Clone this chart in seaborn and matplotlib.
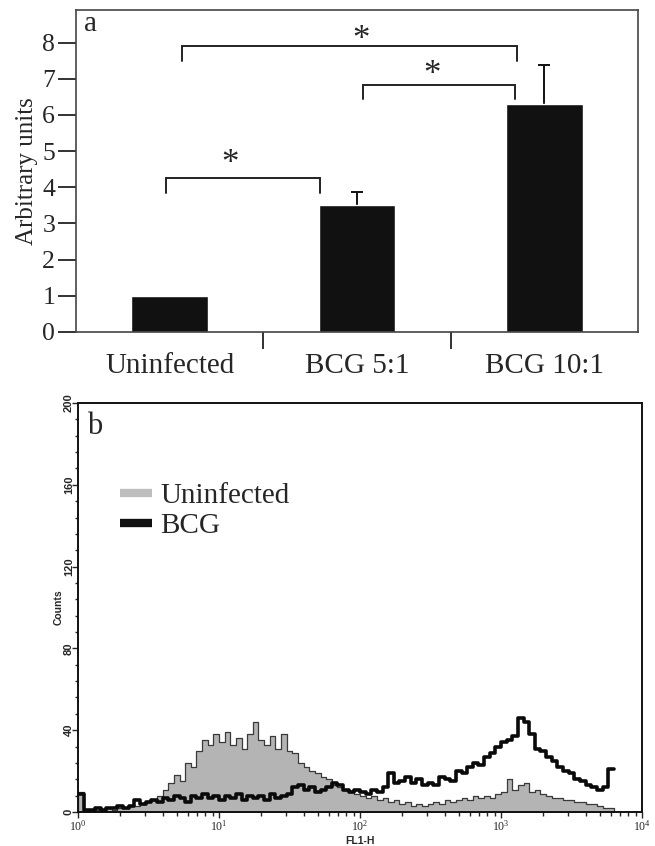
import numpy as np
import pandas as pd
import matplotlib
matplotlib.use("Agg")
import matplotlib.pyplot as plt
from matplotlib.lines import Line2D
from matplotlib.ticker import MultipleLocator, LogLocator, NullFormatter
import seaborn as sns

# ---------------- data ----------------
categories = ["Uninfected", "BCG 5:1", "BCG 10:1"]
bar_values = [1.0, 3.5, 6.3]
bar_errors = [0.0, 0.38, 1.08]

# significance brackets: (x_left, x_right, height, tick_bottom, star_x, star_y)
brackets = [
    (-0.02, 0.80, 4.27, 3.85, 0.32, 4.62),
    (0.065, 1.855, 7.90, 7.48, 1.02, 8.05),
    (1.03, 1.845, 6.84, 6.45, 1.40, 7.10),
]

# flow cytometry histogram: counts per channel (channel width 0.04 decade, from 10^0)
uninfected_counts = [
    10, 1, 1, 1, 1, 2, 1, 2, 2, 3,
    3, 4, 5, 6, 8, 11, 14, 18, 15, 24,
    22, 30, 35, 33, 38, 34, 39, 33, 36, 31,
    38, 44, 35, 33, 37, 31, 38, 30, 29, 24,
    22, 20, 19, 17, 16, 13, 12, 11, 10, 9,
    8, 7, 8, 6, 7, 5, 6, 4, 5, 3,
    4, 3, 4, 5, 4, 6, 5, 6, 7, 6,
    8, 7, 8, 7, 9, 10, 16, 11, 13, 14,
    10, 11, 9, 8, 7, 7, 6, 6, 5, 5,
    4, 4, 3, 2, 2,
]
bcg_counts = [
    9, 1, 1, 2, 1, 2, 2, 3, 2, 3,
    6, 4, 5, 6, 5, 7, 6, 8, 7, 5,
    8, 7, 9, 7, 8, 6, 8, 7, 9, 6,
    8, 7, 8, 6, 9, 7, 8, 9, 12, 13,
    11, 12, 10, 11, 12, 14, 13, 11, 10, 11,
    10, 9, 11, 10, 12, 19, 14, 15, 17, 14,
    16, 13, 14, 13, 17, 16, 15, 20, 19, 22,
    24, 23, 27, 29, 32, 34, 35, 37, 46, 44,
    38, 31, 30, 27, 25, 22, 20, 19, 16, 15,
    13, 12, 11, 12, 21,
]
channel_width_decades = 0.04
hist_yticks = [0, 40, 80, 120, 160, 200]

# ---------------- style ----------------
sns.set_style("white")
plt.rcParams["font.family"] = ["Liberation Serif", "DejaVu Serif"]
plt.rcParams["mathtext.fontset"] = "custom"
plt.rcParams["mathtext.rm"] = "Liberation Sans:bold"
plt.rcParams["mathtext.it"] = "Liberation Sans:bold"
plt.rcParams["mathtext.bf"] = "Liberation Sans:bold"

fig = plt.figure(figsize=(6.55, 8.46), dpi=100)
ax1 = fig.add_axes([76 / 655, 1 - 332 / 846, 562 / 655, 322 / 846])
ax2 = fig.add_axes([78 / 655, 1 - 812 / 846, 564 / 655, 409 / 846])

# ---------------- panel a ----------------
df_bar = pd.DataFrame({"group": categories, "value": bar_values})
sns.barplot(data=df_bar, x="group", y="value", color="#111111", width=0.41,
            saturation=1, errorbar=None, ax=ax1, zorder=2)
idx = [i for i, e in enumerate(bar_errors) if e > 0]
_, caps, _ = ax1.errorbar(idx, [bar_values[i] for i in idx],
                          yerr=[np.zeros(len(idx)), [bar_errors[i] for i in idx]],
                          fmt="none", ecolor="#111111", elinewidth=1.4,
                          capsize=4.5, capthick=1.4, zorder=1)
caps[0].set_visible(False)
ax1.set_xlim(-0.5, 2.5)
ax1.set_ylim(0, 8.9)
ax1.set_yticks(range(0, 9))
ax1.set_xticks([0.5, 1.5])
ax1.set_xticklabels([])
ax1.set_xticks([0, 1, 2], minor=True)
ax1.set_xticklabels(categories, minor=True, fontsize=21)
ax1.tick_params(axis="x", which="major", length=12, width=1.3, direction="out",
                color="#222222", bottom=True)
ax1.tick_params(axis="x", which="minor", length=0, pad=15, bottom=True)
ax1.tick_params(axis="y", which="major", length=13, width=1.3, direction="out",
                color="#222222", labelsize=18.5, pad=2, left=True)
ax1.set_xlabel("")
ax1.set_ylabel("Arbitrary units", fontsize=18, labelpad=3)
for s in ax1.spines.values():
    s.set_visible(True)
    s.set_color("#444444")
    s.set_linewidth(1.2)
ax1.text(0.014, 0.955, "a", transform=ax1.transAxes, fontsize=21,
         ha="left", va="center")
for xl, xr, h, tb, sx, sy in brackets:
    ax1.plot([xl, xl, xr, xr], [tb, h, h, tb], color="#222222", lw=1.4,
             solid_joinstyle="miter")
    ax1.text(sx, sy, "*", fontsize=25, ha="center", va="center")

# ---------------- panel b ----------------
n = len(uninfected_counts)
centers = 10 ** (channel_width_decades * (np.arange(n) + 0.5))
df_hist = pd.DataFrame({"fl1": centers, "uninf": uninfected_counts, "bcg": bcg_counts})
rng = (0, channel_width_decades * n)
sns.histplot(data=df_hist, x="fl1", weights="uninf", log_scale=True,
             binwidth=channel_width_decades, binrange=rng, element="step",
             fill=True, color="#b4b4b4", edgecolor="#3a3a3a", linewidth=0.9,
             alpha=1, ax=ax2, zorder=2)
sns.histplot(data=df_hist, x="fl1", weights="bcg", log_scale=True,
             binwidth=channel_width_decades, binrange=rng, element="step",
             fill=False, color="#0a0a0a", linewidth=2.6, ax=ax2, zorder=3)
ax2.set_xlim(1, 1e4)
ax2.set_ylim(0, 200)
ax2.set_yticks(hist_yticks)
ax2.yaxis.set_minor_locator(MultipleLocator(8))
ax2.xaxis.set_major_locator(LogLocator(base=10, numticks=10))
ax2.xaxis.set_minor_locator(LogLocator(base=10, subs=np.arange(2, 10), numticks=20))
ax2.xaxis.set_minor_formatter(NullFormatter())
ax2.tick_params(axis="y", which="major", length=4, width=1, direction="out",
                left=True, labelsize=8, pad=-1)
ax2.tick_params(axis="y", which="minor", length=2.5, width=1, direction="out", left=True)
ax2.tick_params(axis="x", which="major", length=4, width=1, direction="out",
                bottom=True, labelsize=8.5, pad=1)
ax2.tick_params(axis="x", which="minor", length=3, width=1, direction="out", bottom=True)
for lab in ax2.get_yticklabels():
    lab.set_rotation(90)
    lab.set_va("center")
    lab.set_family("Liberation Sans")
    lab.set_weight("bold")
ax2.set_ylabel("Counts", fontsize=7.5, family="Liberation Sans", weight="bold", labelpad=0)
ax2.set_xlabel("FL1-H", fontsize=7.5, family="Liberation Sans", weight="bold", labelpad=2)
for s in ax2.spines.values():
    s.set_visible(True)
    s.set_color("#111111")
    s.set_linewidth(1.4)
ax2.text(0.016, 0.942, "b", transform=ax2.transAxes, fontsize=22,
         ha="left", va="center")
handles = [Line2D([0], [0], color="#bdbdbd", lw=6, solid_capstyle="butt"),
           Line2D([0], [0], color="#111111", lw=6, solid_capstyle="butt")]
ax2.legend(handles, ["Uninfected", "BCG"], loc="upper left",
           bbox_to_anchor=(0.074, 0.805), frameon=False, fontsize=21,
           handlelength=1.1, handletextpad=0.3, labelspacing=0.12,
           borderpad=0, borderaxespad=0)

fig.savefig("out.png", dpi=100)
